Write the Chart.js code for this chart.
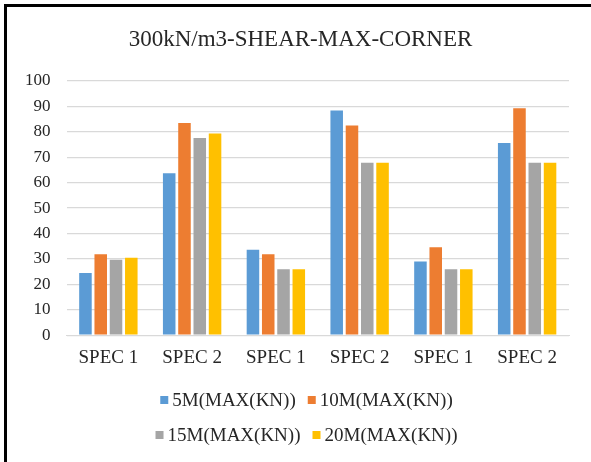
<!DOCTYPE html>
<html>
<head>
<meta charset="utf-8">
<script src="https://cdn.jsdelivr.net/npm/chart.js@4"></script>
<style>
    html, body { margin: 0; padding: 0; background: #fff; }
    #wrap { position: relative; width: 591px; height: 462px; }
    #frame {
        position: absolute; left: 4px; top: 4px; right: 0; bottom: 0;
        border-left: 3px solid #000; border-top: 3px solid #000;
        pointer-events: none;
    }
</style>
</head>
<body>
<div id="wrap">
    <canvas id="chart" width="591" height="462"></canvas>
    <div id="frame"></div>
</div>
<script>
const chartTitle = '300kN/m3-SHEAR-MAX-CORNER';
const categories = ['SPEC 1', 'SPEC 2', 'SPEC 1', 'SPEC 2', 'SPEC 1', 'SPEC 2'];
const seriesNames = ['5M(MAX(KN))', '10M(MAX(KN))', '15M(MAX(KN))', '20M(MAX(KN))'];
const values5m = [24.5, 63.7, 33.6, 88.4, 29.0, 75.6];
const values10m = [31.8, 83.5, 31.8, 82.5, 34.6, 89.3];
const values15m = [29.7, 77.6, 25.9, 67.8, 25.9, 67.8];
const values20m = [30.5, 79.3, 25.9, 67.8, 25.9, 67.8];
const colors = ['#5B9BD5', '#ED7D31', '#A5A5A5', '#FFC000'];

const serif = "'Liberation Serif', 'Times New Roman', serif";
const textColor = '#262626';

// title and two-row legend drawn by hand so they sit where Excel put them
const excelDecor = {
    id: 'excelDecor',
    afterDraw(chart) {
        const ctx = chart.ctx;
        ctx.save();

        ctx.font = '23px ' + serif;
        ctx.fillStyle = textColor;
        ctx.textAlign = 'center';
        ctx.textBaseline = 'middle';
        ctx.fillText(chartTitle, chart.width / 2 + 5, 40);

        const rows = [[0, 1], [2, 3]];
        const rowY = [400, 435];
        const box = 8;
        const gap = 4;
        const itemGap = 12;
        const midX = chart.width / 2 + 11;
        ctx.font = '19px ' + serif;
        ctx.textAlign = 'left';
        rows.forEach((row, r) => {
            const widths = row.map(i => box + gap + ctx.measureText(chart.data.datasets[i].label).width);
            const total = widths.reduce((a, b) => a + b, 0) + itemGap * (row.length - 1);
            let x = midX - total / 2;
            row.forEach((i, k) => {
                const ds = chart.data.datasets[i];
                ctx.fillStyle = ds.backgroundColor;
                ctx.fillRect(x, rowY[r] - box / 2, box, box);
                ctx.fillStyle = textColor;
                ctx.fillText(ds.label, x + box + gap, rowY[r] + 1);
                x += widths[k] + itemGap;
            });
        });
        ctx.restore();
    }
};

const seriesValues = [values5m, values10m, values15m, values20m];

new Chart(document.getElementById('chart').getContext('2d'), {
    type: 'bar',
    data: {
        labels: categories,
        datasets: seriesNames.map((name, i) => ({
            label: name,
            data: seriesValues[i],
            backgroundColor: colors[i],
            categoryPercentage: 0.73,
            barPercentage: 0.82
        }))
    },
    options: {
        responsive: false,
        animation: false,
        layout: {
            padding: { top: 81, left: 9, right: 22, bottom: 82 }
        },
        scales: {
            x: {
                grid: { display: false, drawTicks: false },
                border: { color: '#d9d9d9', width: 1 },
                ticks: {
                    color: textColor,
                    padding: 11,
                    font: { family: serif, size: 19 }
                }
            },
            y: {
                min: 0,
                max: 100,
                ticks: {
                    stepSize: 10,
                    color: textColor,
                    padding: 16,
                    font: { family: serif, size: 17 }
                },
                grid: { color: '#d9d9d9', lineWidth: 1.3, drawTicks: false },
                border: { display: false }
            }
        },
        plugins: {
            legend: { display: false },
            tooltip: { enabled: false },
            title: { display: false }
        }
    },
    plugins: [excelDecor]
});
</script>
</body>
</html>
